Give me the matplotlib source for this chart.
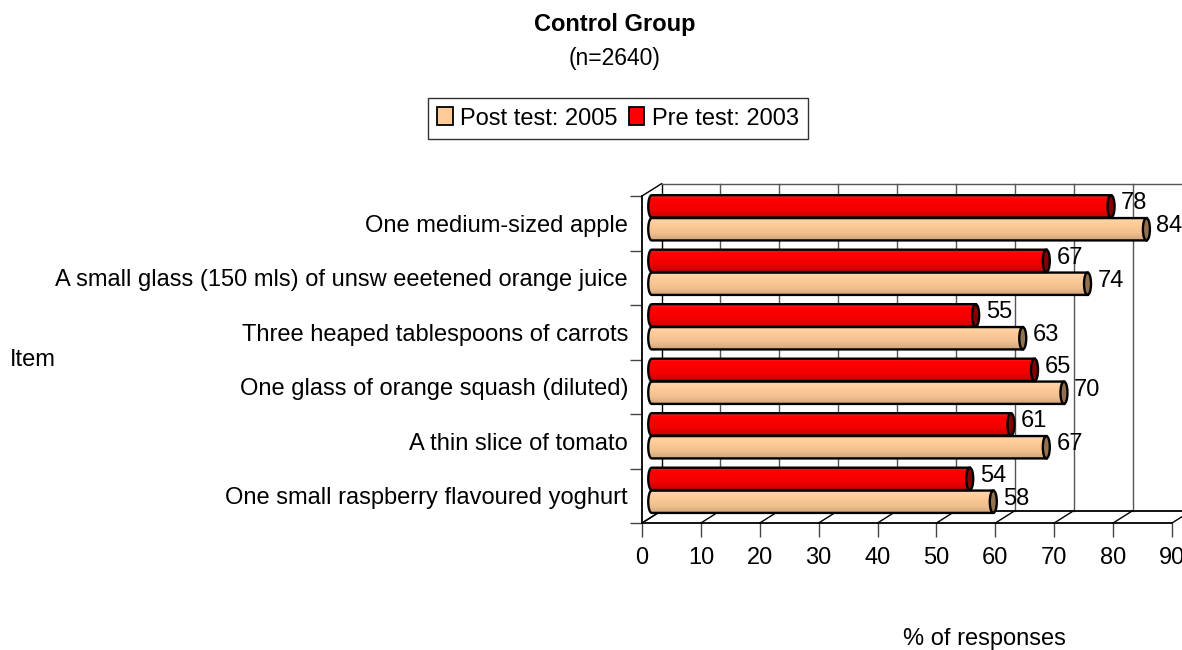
import numpy as np
import matplotlib
matplotlib.use('Agg')
import matplotlib.pyplot as plt
from matplotlib.patches import Ellipse, PathPatch, Patch
from matplotlib.path import Path
from matplotlib.colors import LinearSegmentedColormap

plt.rcParams['font.family'] = ['Liberation Sans', 'DejaVu Sans']

# data
items = ['One medium-sized apple',
         'A small glass (150 mls) of unsw eeetened orange juice',
         'Three heaped tablespoons of carrots',
         'One glass of orange squash (diluted)',
         'A thin slice of tomato',
         'One small raspberry flavoured yoghurt']
post_2005 = [84, 74, 63, 70, 67, 58]
pre_2003 = [78, 67, 55, 65, 61, 54]
xticks = [0, 10, 20, 30, 40, 50, 60, 70, 80, 90]

W, H = 1182, 650
FS = 17
fig = plt.figure(figsize=(W / 100, H / 100), dpi=100)
# front plane of the 3d box
ax = fig.add_axes([642 / W, 127 / H, 530 / W, 327 / H])
ax.set_xlim(0, 90)
ax.set_ylim(6, 0)

# depth offset of the back wall, in pixels
DX, DY = 19.5, 12.3
ux = 90 / 530
uy = 6 / 327
ddx, ddy = DX * ux, DY * uy

for s in ['top', 'right']:
    ax.spines[s].set_visible(False)
for s in ['left', 'bottom']:
    ax.spines[s].set_linewidth(1.3)

ax.set_xticks(xticks)
ax.set_xticklabels([str(t) for t in xticks], fontsize=FS)
ax.tick_params(axis='x', length=10, width=1, pad=7, color='#444444')
ax.set_yticks(range(7))
ax.set_yticklabels([])
ax.tick_params(axis='y', which='major', length=9, width=1, color='#444444')
ax.set_yticks(np.arange(len(items)) + 0.5, minor=True)
ax.set_yticklabels(items, minor=True, fontsize=FS)
ax.tick_params(axis='y', which='minor', length=0, pad=10)

# back wall + floor
grid_c = '#555555'
for t in xticks:
    ax.plot([t + ddx, t + ddx], [-ddy, 6 - ddy], color='black' if t == 0 else grid_c,
            lw=1, clip_on=False, zorder=1)
    ax.plot([t, t + ddx], [6, 6 - ddy], color='black', lw=1, clip_on=False, zorder=1)
ax.plot([ddx, 90 + ddx], [-ddy, -ddy], color=grid_c, lw=1, clip_on=False, zorder=1)
ax.plot([ddx, 90 + ddx], [6 - ddy, 6 - ddy], color='black', lw=1.3, clip_on=False, zorder=1)
ax.plot([0, ddx], [0, -ddy], color='black', lw=1, clip_on=False, zorder=1)
ax.plot([0, ddx], [6, 6 - ddy], color='black', lw=1, clip_on=False, zorder=1)

red_cmap = LinearSegmentedColormap.from_list(
    'r', [(0, '#ff3030'), (0.15, '#ff0000'), (0.6, '#f40000'), (1, '#cc0000')])
tan_cmap = LinearSegmentedColormap.from_list(
    't', [(0, '#ffd8b0'), (0.3, '#ffcc99'), (0.7, '#f0c08e'), (1, '#d2a479')])

x0 = ddx / 2
bar_h = 0.41
a = 3.5 * ux
grad = np.linspace(0, 1, 64).reshape(-1, 1)


def cylinder(value, yc, cmap, cap_color):
    top, bot = yc - bar_h / 2, yc + bar_h / 2
    t = np.linspace(0, np.pi, 30)
    arc = np.column_stack([x0 - a * np.sin(t), yc - bar_h / 2 * np.cos(t)])
    verts = np.vstack([arc, [[x0 + value, bot], [x0 + value, top], [x0, top]]])
    body = PathPatch(Path(verts, closed=False), facecolor='none', edgecolor='black',
                     lw=1.7, zorder=4, clip_on=False)
    ax.add_patch(body)
    im = ax.imshow(grad, cmap=cmap, aspect='auto', extent=(x0 - a, x0 + value, bot, top),
                   origin='upper', interpolation='bilinear', zorder=3)
    im.set_clip_path(body)
    cap = Ellipse((x0 + value, yc), 2 * a, bar_h, facecolor=cap_color, edgecolor='black',
                  lw=1.7, zorder=5, clip_on=False)
    ax.add_patch(cap)
    ax.annotate(str(value), (x0 + value, yc), xytext=(10, 3), textcoords='offset pixels',
                ha='left', va='center', fontsize=FS, zorder=6, annotation_clip=False)


for i in range(len(items)):
    cylinder(pre_2003[i], i + 0.19, red_cmap, '#860000')
    cylinder(post_2005[i], i + 0.61, tan_cmap, '#93704f')

ax.set_xlim(0, 90)
ax.set_ylim(6, 0)

fig.text(615 / W, 1 - 25 / H, 'Control Group', ha='center', va='center',
         fontsize=17, fontweight='bold')
fig.text(615 / W, 1 - 58 / H, '(n=2640)', ha='center', va='center', fontsize=16.5)
fig.text(10 / W, 1 - 360 / H, 'Item', ha='left', va='center', fontsize=FS)
fig.text(984 / W, 1 - 639 / H, '% of responses', ha='center', va='center', fontsize=FS)

handles = [Patch(facecolor='#ffcc99', edgecolor='black', lw=1.3),
           Patch(facecolor='#ff0000', edgecolor='black', lw=1.3)]
leg = fig.legend(handles, ['Post test: 2005', 'Pre test: 2003'], loc='center',
                 bbox_to_anchor=(618 / W, 1 - 118.5 / H), ncol=2, fontsize=17,
                 frameon=True, fancybox=False, edgecolor='black', handlelength=0.65,
                 handleheight=0.8, handletextpad=0.3, columnspacing=0.5, borderpad=0.4)
leg.get_frame().set_linewidth(1)

fig.savefig('out.png', dpi=100)
